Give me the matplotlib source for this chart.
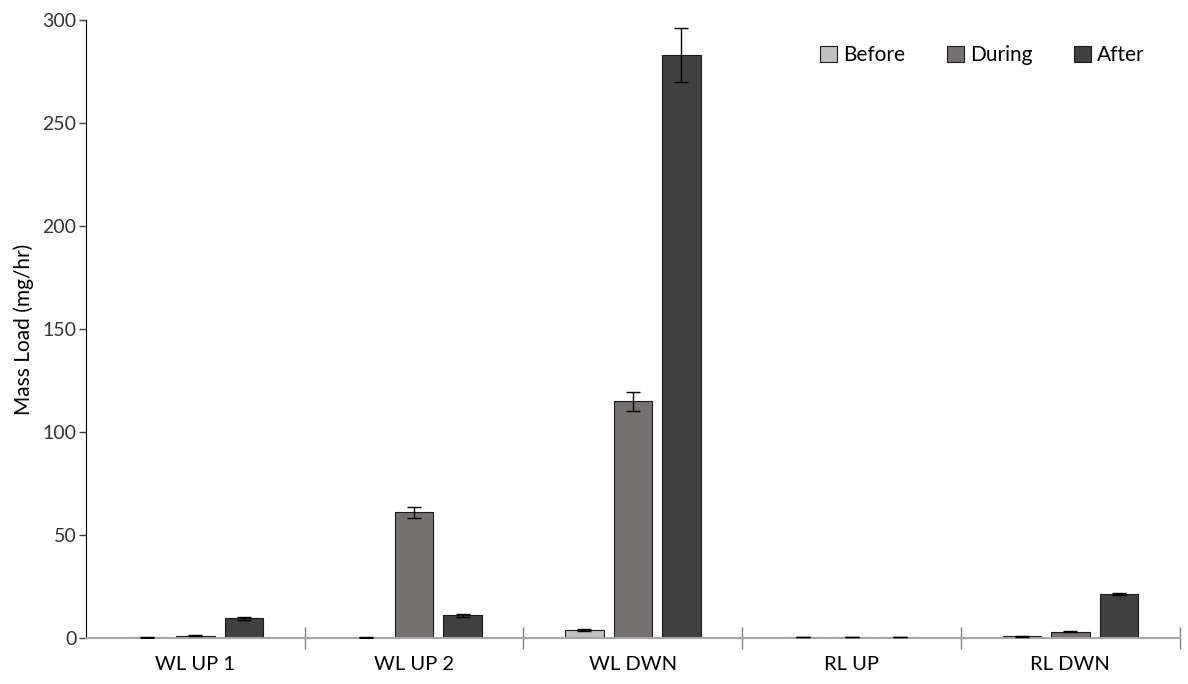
import matplotlib.pyplot as plt
import numpy as np

plt.rcParams['font.family'] = ['Lato', 'DejaVu Sans']

sites = ['WL UP 1', 'WL UP 2', 'WL DWN', 'RL UP', 'RL DWN']
series = ['Before', 'During', 'After']
before = [0.3, 0.2, 4.0, 0.4, 0.8]
before_err = [0.1, 0.1, 0.5, 0.1, 0.2]
during = [1.0, 61.0, 115.0, 0.5, 3.0]
during_err = [0.2, 2.7, 4.6, 0.1, 0.3]
after = [9.5, 11.0, 283.0, 0.4, 21.5]
after_err = [0.7, 0.7, 13.0, 0.1, 0.5]
colors = ['#c0c0c0', '#767171', '#404040']

fig = plt.figure(figsize=(11.88, 6.84), dpi=100)
ax = fig.add_axes([0.0724, 0.0673, 0.9206, 0.9035])

x = np.arange(len(sites))
w = 0.176
step = 0.222
for i, (vals, errs) in enumerate([(before, before_err), (during, during_err), (after, after_err)]):
    ax.bar(x + (i - 1) * step, vals, w, color=colors[i], edgecolor='#1a1a1a', linewidth=0.8,
           label=series[i], zorder=2)
    ax.errorbar(x + (i - 1) * step, vals, yerr=errs, fmt='none', ecolor='black',
                elinewidth=1, capsize=5, capthick=1, zorder=3)

ax.set_xlim(-0.5, len(sites) - 0.5)
ax.set_ylim(0, 300)
ax.set_yticks(range(0, 301, 50))
ax.set_xticks(x)
ax.set_xticklabels(sites)
ax.set_xticks(np.arange(0.5, len(sites), 1), minor=True)
ax.tick_params(axis='x', which='major', length=0, pad=13, labelsize=14.5)
ax.tick_params(axis='x', which='minor', direction='inout', length=16, color='#808080', width=1)
ax.tick_params(axis='y', direction='out', length=5, width=1, labelsize=14, colors='#404040', pad=2)
ax.tick_params(axis='y', labelcolor='#333333')
ax.set_ylabel('Mass Load (mg/hr)', fontsize=15, labelpad=6)

for s in ['top', 'right']:
    ax.spines[s].set_visible(False)
ax.spines['left'].set_color('black')
ax.spines['bottom'].set_color('#a6a6a6')
ax.spines['bottom'].set_linewidth(1.5)

ax.legend(loc='upper right', bbox_to_anchor=(0.985, 0.99), ncol=3, frameon=False, fontsize=15,
          handlelength=0.8, handleheight=0.8, handletextpad=0.3, columnspacing=2.0)

fig.savefig('out.png', dpi=100)
